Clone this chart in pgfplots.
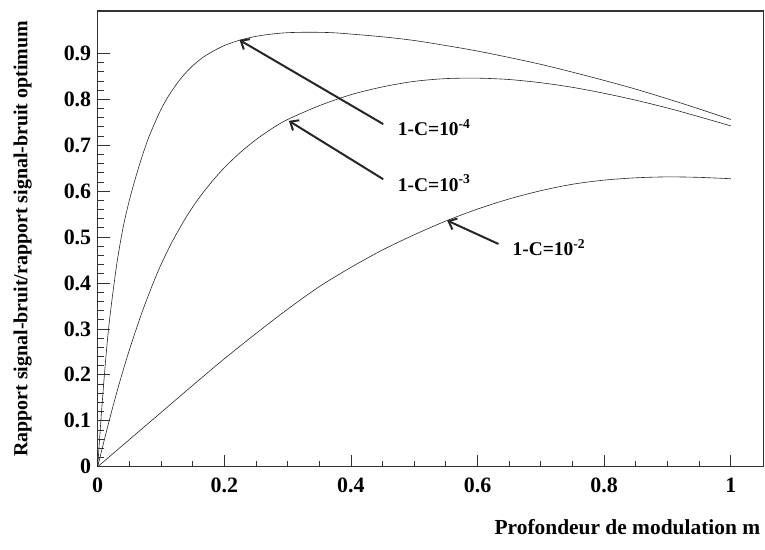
\documentclass[border=0pt]{standalone}
\usepackage{pgfplots}
\pgfplotsset{compat=1.18}
\usepackage{fontspec}
\setmainfont{Liberation Serif}
\usetikzlibrary{arrows.meta}

% curves, x = m, y = ratio
\pgfplotstableread{
x y
0 0
0.005 0.100
0.01 0.190
0.015 0.270
0.02 0.335
0.03 0.440
0.04 0.520
0.05 0.580
0.06 0.630
0.07 0.675
0.08 0.715
0.09 0.748
0.10 0.778
0.11 0.803
0.12 0.824
0.13 0.843
0.14 0.859
0.15 0.873
0.165 0.890
0.18 0.903
0.20 0.917
0.225 0.929
0.25 0.937
0.275 0.942
0.30 0.945
0.335 0.946
0.37 0.945
0.40 0.942
0.45 0.936
0.50 0.928
0.55 0.917
0.60 0.905
0.65 0.891
0.70 0.876
0.75 0.859
0.80 0.841
0.85 0.822
0.90 0.801
0.95 0.779
1.00 0.756
}\curveA

\pgfplotstableread{
x y
0 0
0.01 0.056
0.02 0.110
0.03 0.161
0.04 0.209
0.05 0.254
0.06 0.296
0.07 0.336
0.08 0.373
0.09 0.408
0.10 0.440
0.11 0.469
0.12 0.496
0.14 0.544
0.16 0.585
0.18 0.620
0.20 0.651
0.225 0.684
0.25 0.712
0.275 0.736
0.30 0.756
0.35 0.786
0.40 0.810
0.45 0.827
0.50 0.839
0.55 0.845
0.60 0.846
0.65 0.843
0.70 0.836
0.75 0.826
0.80 0.813
0.85 0.798
0.90 0.781
0.95 0.762
1.00 0.742
}\curveB

\pgfplotstableread{
x y
0 0
0.05 0.059
0.10 0.118
0.15 0.177
0.20 0.235
0.25 0.290
0.30 0.343
0.35 0.392
0.40 0.434
0.45 0.472
0.50 0.505
0.55 0.535
0.60 0.561
0.65 0.583
0.70 0.601
0.75 0.615
0.80 0.624
0.85 0.629
0.90 0.631
0.95 0.630
1.00 0.627
}\curveC

\begin{document}
\begin{tikzpicture}
\begin{axis}[
    name=ax,
    scale only axis,
    width=666bp, height=455.6bp,
    xmin=0, xmax=1.052,
    ymin=0, ymax=0.992,
    xtick={0,0.2,0.4,0.6,0.8,1},
    ytick={0,0.1,0.2,0.3,0.4,0.5,0.6,0.7,0.8,0.9},
    minor x tick num=3,
    minor y tick num=4,
    tick pos=left,
    tick align=inside,
    major tick length=12bp,
    minor tick length=6bp,
    every tick/.style={black!80, line width=0.8pt},
    axis line style={black!80, line width=1.4pt},
    /pgf/number format/assume math mode=true,
    ticklabel style={font=\fontsize{22}{26}\selectfont\bfseries},
    xticklabel style={yshift=-8bp},
    yticklabel style={xshift=-3bp},
    xlabel={Profondeur de modulation m},
    ylabel={Rapport signal-bruit/rapport signal-bruit optimum},
    xlabel style={font=\fontsize{21.5}{25}\selectfont\bfseries,
        at={(axis description cs:1,-0.1316)}, anchor=east},
    ylabel style={font=\fontsize{20}{24}\selectfont\bfseries,
        at={(axis description cs:-0.1126,0.5)}, anchor=center},
    every axis plot/.append style={black!85, line width=0.6pt},
]
\addplot[smooth] table {\curveA};
\addplot[smooth] table {\curveB};
\addplot[smooth] table {\curveC};

\draw[black!85, line width=2pt, -{Straight Barb[length=7bp, width=12bp]}]
    (axis cs:0.451,0.746) -- (axis cs:0.224,0.929);
\draw[black!85, line width=2pt, -{Straight Barb[length=7bp, width=12bp]}]
    (axis cs:0.451,0.626) -- (axis cs:0.302,0.753);
\draw[black!85, line width=2pt, -{Straight Barb[length=7bp, width=12bp]}]
    (axis cs:0.633,0.485) -- (axis cs:0.552,0.536);

\node[anchor=west, font=\fontsize{19.5}{23}\selectfont\bfseries, inner sep=0pt]
    at (axis cs:0.474,0.738) {1-C=10\textsuperscript{-4}};
\node[anchor=west, font=\fontsize{19.5}{23}\selectfont\bfseries, inner sep=0pt]
    at (axis cs:0.474,0.618) {1-C=10\textsuperscript{-3}};
\node[anchor=west, font=\fontsize{19.5}{23}\selectfont\bfseries, inner sep=0pt]
    at (axis cs:0.655,0.477) {1-C=10\textsuperscript{-2}};
\end{axis}
\pgfresetboundingbox
\path (ax.south west) ++(-97.7bp,-83.3bp) rectangle ++(765bp,550bp);
\end{tikzpicture}
\end{document}
